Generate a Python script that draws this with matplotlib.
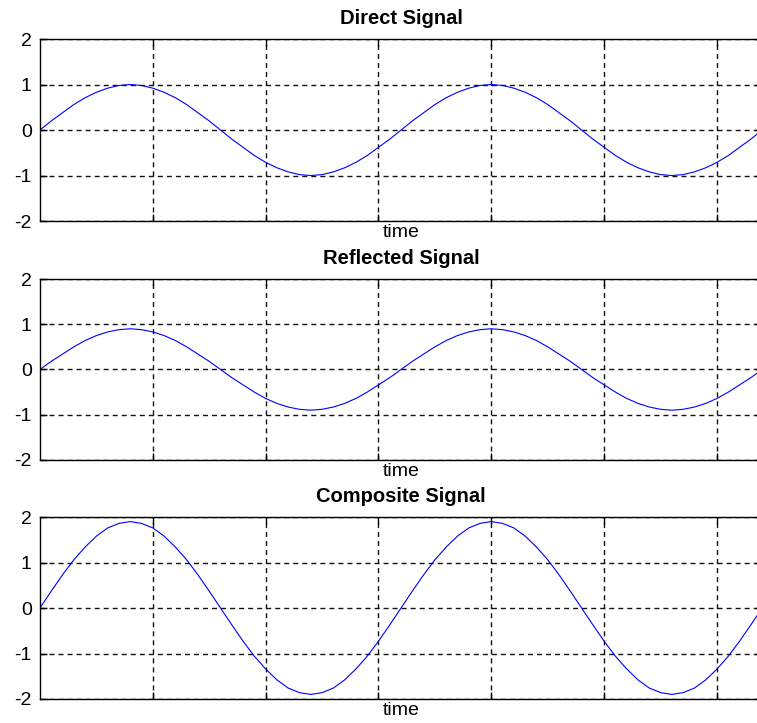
import matplotlib
matplotlib.use("Agg")
import matplotlib.pyplot as plt

plt.rcParams['font.family'] = ['Liberation Sans', 'DejaVu Sans']
plt.rcParams['lines.scale_dashes'] = False

# sample times (grid units) and signal values
time = [0.0, 0.1, 0.2, 0.3, 0.4, 0.5, 0.6, 0.7, 0.8, 0.9,
        1.0, 1.1, 1.2, 1.3, 1.4, 1.5, 1.6, 1.7, 1.8, 1.9,
        2.0, 2.1, 2.2, 2.3, 2.4, 2.5, 2.6, 2.7, 2.8, 2.9,
        3.0, 3.1, 3.2, 3.3, 3.4, 3.5, 3.6, 3.7, 3.8, 3.9,
        4.0, 4.1, 4.2, 4.3, 4.4, 4.5, 4.6, 4.7, 4.8, 4.9,
        5.0, 5.1, 5.2, 5.3, 5.4, 5.5, 5.6, 5.7, 5.8, 5.9,
        6.0, 6.1, 6.2, 6.3, 6.4]

direct = [0.00, 0.20, 0.38, 0.56, 0.71, 0.83, 0.92, 0.98, 1.00, 0.98,
          0.92, 0.83, 0.71, 0.56, 0.38, 0.20, 0.00, -0.20, -0.38, -0.56,
          -0.71, -0.83, -0.92, -0.98, -1.00, -0.98, -0.92, -0.83, -0.71, -0.56,
          -0.38, -0.20, 0.00, 0.20, 0.38, 0.56, 0.71, 0.83, 0.92, 0.98,
          1.00, 0.98, 0.92, 0.83, 0.71, 0.56, 0.38, 0.20, 0.00, -0.20,
          -0.38, -0.56, -0.71, -0.83, -0.92, -0.98, -1.00, -0.98, -0.92, -0.83,
          -0.71, -0.56, -0.38, -0.20, 0.00]

reflected = [0.00, 0.18, 0.34, 0.50, 0.64, 0.75, 0.83, 0.88, 0.90, 0.88,
             0.83, 0.75, 0.64, 0.50, 0.34, 0.18, 0.00, -0.18, -0.34, -0.50,
             -0.64, -0.75, -0.83, -0.88, -0.90, -0.88, -0.83, -0.75, -0.64, -0.50,
             -0.34, -0.18, 0.00, 0.18, 0.34, 0.50, 0.64, 0.75, 0.83, 0.88,
             0.90, 0.88, 0.83, 0.75, 0.64, 0.50, 0.34, 0.18, 0.00, -0.18,
             -0.34, -0.50, -0.64, -0.75, -0.83, -0.88, -0.90, -0.88, -0.83, -0.75,
             -0.64, -0.50, -0.34, -0.18, 0.00]

composite = [0.00, 0.37, 0.73, 1.06, 1.34, 1.58, 1.76, 1.86, 1.90, 1.86,
             1.76, 1.58, 1.34, 1.06, 0.73, 0.37, 0.00, -0.37, -0.73, -1.06,
             -1.34, -1.58, -1.76, -1.86, -1.90, -1.86, -1.76, -1.58, -1.34, -1.06,
             -0.73, -0.37, 0.00, 0.37, 0.73, 1.06, 1.34, 1.58, 1.76, 1.86,
             1.90, 1.86, 1.76, 1.58, 1.34, 1.06, 0.73, 0.37, 0.00, -0.37,
             -0.73, -1.06, -1.34, -1.58, -1.76, -1.86, -1.90, -1.86, -1.76, -1.58,
             -1.34, -1.06, -0.73, -0.37, 0.00]

titles = ['Direct Signal', 'Reflected Signal', 'Composite Signal']
signals = [direct, reflected, composite]
xticks = [1, 2, 3, 4, 5, 6]
yticks = [-2, -1, 0, 1, 2]

fig = plt.figure(figsize=(7.57, 7.23), dpi=100)

# axes boxes in figure fractions (left, bottom, width, height)
boxes = [[0.0528, 0.6943, 0.954, 0.2517],
         [0.0528, 0.3638, 0.954, 0.2503],
         [0.0528, 0.0332, 0.954, 0.2517]]

for box, title, sig in zip(boxes, titles, signals):
    ax = fig.add_axes(box)
    ax.plot(time, sig, color='#0000ff', linewidth=0.8)
    ax.set_xlim(0, 6.4)
    ax.set_ylim(-2, 2)
    ax.set_xticks(xticks)
    ax.set_xticklabels([])
    ax.set_yticks(yticks)
    ax.set_yticklabels([str(v) for v in yticks])
    ax.tick_params(direction='in', length=5, width=1, top=True, right=True,
                   labelsize=14, pad=6, color='black')
    ax.grid(True, color='#111111', linestyle=(0, (3.6, 2.9)), linewidth=1.0)
    for sp in ax.spines.values():
        sp.set_linewidth(1.0)
        sp.set_color('black')
    ax.set_title(title, fontsize=14.5, fontweight='bold', pad=11)
    ax.set_xlabel('time', fontsize=14, labelpad=-4)

fig.savefig('out.png', dpi=100)
